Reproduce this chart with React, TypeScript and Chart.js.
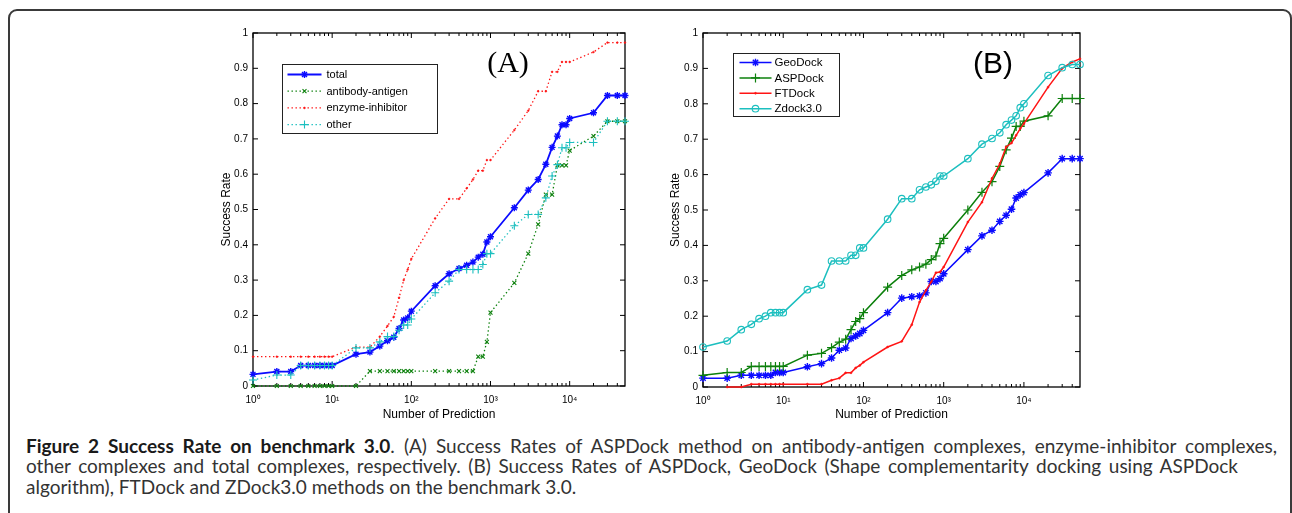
import React, { useEffect, useRef } from 'react';
import { Chart, registerables } from 'chart.js';
import { drawPoint } from 'chart.js/helpers';

Chart.register(...registerables);

// ---------- data ----------
const xValues = [1, 2, 3, 4, 5, 6, 7, 8, 9, 10, 20, 30, 40, 50, 60, 70, 80, 90, 100, 200, 300, 400, 500, 600, 700, 800, 900, 1000, 2000, 3000, 4000, 5000, 6000, 7000, 8000, 9000, 10000, 20000, 30000, 40000, 50000];

// Panel (A)
const totalA = [0.033, 0.041, 0.041, 0.058, 0.058, 0.058, 0.058, 0.058, 0.058, 0.058, 0.09, 0.096, 0.113, 0.128, 0.138, 0.163, 0.187, 0.193, 0.212, 0.284, 0.318, 0.333, 0.342, 0.351, 0.365, 0.373, 0.408, 0.423, 0.505, 0.555, 0.585, 0.628, 0.676, 0.708, 0.74, 0.74, 0.758, 0.774, 0.823, 0.823, 0.823];
const antibodyA = [0, 0, 0, 0, 0, 0, 0, 0, 0, 0, 0, 0.042, 0.042, 0.042, 0.042, 0.042, 0.042, 0.042, 0.042, 0.042, 0.042, 0.042, 0.042, 0.042, 0.083, 0.083, 0.125, 0.208, 0.292, 0.375, 0.458, 0.542, 0.542, 0.625, 0.625, 0.625, 0.667, 0.708, 0.75, 0.75, 0.75];
const enzymeA = [0.083, 0.083, 0.083, 0.083, 0.083, 0.083, 0.083, 0.083, 0.083, 0.083, 0.11, 0.11, 0.14, 0.17, 0.196, 0.25, 0.3, 0.33, 0.36, 0.475, 0.53, 0.53, 0.56, 0.585, 0.61, 0.61, 0.64, 0.64, 0.725, 0.78, 0.835, 0.835, 0.89, 0.89, 0.918, 0.918, 0.918, 0.946, 0.973, 0.973, 0.973];
const otherA = [0.017, 0.031, 0.031, 0.058, 0.058, 0.058, 0.058, 0.058, 0.058, 0.058, 0.108, 0.108, 0.125, 0.14, 0.14, 0.158, 0.173, 0.173, 0.19, 0.264, 0.297, 0.33, 0.33, 0.33, 0.33, 0.344, 0.375, 0.375, 0.454, 0.486, 0.486, 0.533, 0.595, 0.627, 0.675, 0.675, 0.69, 0.69, 0.75, 0.75, 0.75];

// Panel (B)
const geoDockB = [0.025, 0.025, 0.033, 0.033, 0.033, 0.033, 0.033, 0.041, 0.041, 0.041, 0.057, 0.066, 0.082, 0.104, 0.11, 0.137, 0.144, 0.151, 0.16, 0.21, 0.251, 0.255, 0.257, 0.266, 0.298, 0.298, 0.306, 0.32, 0.388, 0.427, 0.443, 0.468, 0.485, 0.502, 0.534, 0.543, 0.549, 0.605, 0.645, 0.645, 0.645];
const aspDockB = [0.033, 0.041, 0.041, 0.058, 0.058, 0.058, 0.058, 0.058, 0.058, 0.058, 0.09, 0.095, 0.111, 0.127, 0.135, 0.162, 0.185, 0.193, 0.21, 0.282, 0.315, 0.331, 0.339, 0.347, 0.36, 0.37, 0.405, 0.42, 0.5, 0.55, 0.58, 0.623, 0.67, 0.703, 0.736, 0.736, 0.751, 0.766, 0.815, 0.815, 0.815];
const ftDockB = [null, 0, 0, 0.008, 0.008, 0.008, 0.008, 0.008, 0.008, 0.008, 0.008, 0.008, 0.019, 0.025, 0.04, 0.04, 0.054, 0.061, 0.07, 0.113, 0.129, 0.176, 0.24, 0.273, 0.297, 0.323, 0.325, 0.339, 0.466, 0.522, 0.589, 0.63, 0.678, 0.689, 0.711, 0.73, 0.744, 0.847, 0.9, 0.918, 0.927];
const zDockB = [0.113, 0.13, 0.162, 0.177, 0.193, 0.2, 0.21, 0.21, 0.21, 0.21, 0.275, 0.288, 0.356, 0.356, 0.356, 0.372, 0.372, 0.393, 0.393, 0.474, 0.532, 0.532, 0.557, 0.565, 0.571, 0.581, 0.596, 0.596, 0.645, 0.686, 0.702, 0.718, 0.741, 0.754, 0.766, 0.789, 0.8, 0.88, 0.902, 0.911, 0.911];

const seriesLabelsA = ['total', 'antibody-antigen', 'enzyme-inhibitor', 'other'];
const seriesLabelsB = ['GeoDock', 'ASPDock', 'FTDock', 'Zdock3.0'];
const xMajorTicks = [1, 10, 100, 1000, 10000];
const xMinorMultipliers = [2, 3, 4, 5, 6, 7, 8, 9];
const superscripts = ['⁰', '¹', '²', '³', '⁴'];
const xTitle = 'Number of Prediction';
const yTitle = 'Success Rate';

// ---------- styling ----------
const BLUE = '#0b0bff';
const GREEN = '#0c800c';
const RED = '#ff1414';
const CYAN = '#1cbfbf';
const FONT = '"Liberation Sans", Arial, sans-serif';

const toPoints = (ys: (number | null)[]) => xValues.map((x, i) => ({ x, y: ys[i] }));

function ds(label: string, ys: (number | null)[], color: string, style: any, order: number) {
  return {
    label,
    data: toPoints(ys),
    borderColor: color,
    backgroundColor: color,
    pointBorderColor: color,
    pointBackgroundColor: style.fill ?? color,
    borderWidth: style.width ?? 1.3,
    borderDash: style.dash ?? [],
    pointStyle: style.point,
    pointRadius: style.radius,
    pointBorderWidth: style.pbw ?? 1.2,
    pointHoverRadius: style.radius,
    tension: 0,
    clip: false,
    order,
  };
}

const DOT = [1.4, 2.6];

const framePlugin = {
  id: 'matlabFrame',
  beforeDatasetsDraw(chart: any) {
    const { ctx, chartArea: a, scales } = chart;
    const xs = scales.x;
    const ys = scales.y;
    ctx.save();
    ctx.strokeStyle = '#000';
    ctx.lineWidth = 1.3;
    ctx.strokeRect(a.left, a.top, a.right - a.left, a.bottom - a.top);
    ctx.lineWidth = 1;
    ctx.beginPath();
    xMajorTicks.forEach((d) => {
      const px = xs.getPixelForValue(d);
      ctx.moveTo(px, a.bottom); ctx.lineTo(px, a.bottom - 5);
      ctx.moveTo(px, a.top); ctx.lineTo(px, a.top + 5);
      xMinorMultipliers.forEach((m) => {
        const v = d * m;
        if (v >= xs.max) return;
        const p = xs.getPixelForValue(v);
        ctx.moveTo(p, a.bottom); ctx.lineTo(p, a.bottom - 3);
        ctx.moveTo(p, a.top); ctx.lineTo(p, a.top + 3);
      });
    });
    ys.ticks.forEach((t: any) => {
      const py = ys.getPixelForValue(t.value);
      ctx.moveTo(a.left, py); ctx.lineTo(a.left + 5, py);
      ctx.moveTo(a.right, py); ctx.lineTo(a.right - 5, py);
    });
    ctx.stroke();
    ctx.restore();
  },
};

const legendPlugin = {
  id: 'boxLegend',
  afterDraw(chart: any, _args: any, o: any) {
    const { ctx, chartArea: a } = chart;
    const x0 = Math.round(a.left + o.x) + 0.5;
    const y0 = Math.round(a.top + o.y) + 0.5;
    ctx.save();
    ctx.fillStyle = '#fff';
    ctx.fillRect(x0, y0, o.w, o.h);
    ctx.strokeStyle = '#222';
    ctx.lineWidth = 1;
    ctx.strokeRect(x0, y0, o.w, o.h);
    chart.data.datasets.forEach((d: any, i: number) => {
      const cy = y0 + o.first + i * o.row;
      const lx0 = x0 + o.sampleX;
      const lx1 = lx0 + o.sampleLen;
      ctx.strokeStyle = d.borderColor;
      ctx.lineWidth = d.borderWidth;
      ctx.setLineDash(d.borderDash || []);
      ctx.beginPath();
      ctx.moveTo(lx0, cy);
      ctx.lineTo(lx1, cy);
      ctx.stroke();
      ctx.setLineDash([]);
      ctx.fillStyle = d.pointBackgroundColor;
      ctx.strokeStyle = d.pointBorderColor;
      ctx.lineWidth = d.pointBorderWidth;
      drawPoint(ctx, { pointStyle: d.pointStyle, radius: d.pointRadius, borderWidth: d.pointBorderWidth, rotation: 0 }, (lx0 + lx1) / 2, cy);
      ctx.fillStyle = '#000';
      ctx.font = o.font;
      ctx.textBaseline = 'middle';
      ctx.textAlign = 'left';
      ctx.fillText(d.label, x0 + o.textX, cy + 0.5);
    });
    ctx.restore();
  },
};

const panelLabelPlugin = {
  id: 'panelLabel',
  afterDraw(chart: any, _args: any, o: any) {
    const { ctx, chartArea: a } = chart;
    ctx.save();
    ctx.fillStyle = '#000';
    ctx.font = o.font;
    ctx.textAlign = 'center';
    ctx.textBaseline = 'middle';
    ctx.fillText(o.text, a.left + o.dx, a.top + o.dy);
    ctx.restore();
  },
};

function makeConfig(datasets: any[], cfg: any) {
  return {
    type: 'line',
    data: { datasets },
    options: {
      responsive: false,
      maintainAspectRatio: false,
      animation: false,
      events: [],
      layout: { padding: { top: 33, right: cfg.padRight, left: 0, bottom: 0 } },
      plugins: {
        legend: { display: false },
        tooltip: { enabled: false },
        boxLegend: cfg.legend,
        panelLabel: cfg.label,
      },
      scales: {
        x: {
          type: 'logarithmic',
          min: 1,
          max: 50000,
          grid: { display: false, drawTicks: false },
          border: { display: false },
          afterBuildTicks: (s: any) => {
            s.ticks = xMajorTicks.map((v) => ({ value: v, major: true }));
          },
          afterFit: (s: any) => {
            s.height = cfg.xAxisH;
          },
          ticks: {
            autoSkip: false,
            maxRotation: 0,
            padding: 8,
            color: '#000',
            font: { family: FONT, size: 10 },
            callback: (v: any) => '10' + superscripts[Math.round(Math.log10(Number(v)))],
          },
          title: {
            display: true,
            text: xTitle,
            color: '#000',
            font: { family: FONT, size: 12 },
            padding: { top: 0, bottom: 8 },
          },
        },
        y: {
          min: 0,
          max: 1,
          grid: { display: false, drawTicks: false },
          border: { display: false },
          afterFit: (s: any) => {
            s.width = 63;
          },
          ticks: {
            stepSize: 0.1,
            padding: 5,
            color: '#000',
            font: { family: FONT, size: 10 },
            callback: (v: any) => String(Number(Number(v).toFixed(1))),
          },
          title: {
            display: true,
            text: yTitle,
            color: '#000',
            font: { family: FONT, size: 12 },
            padding: { top: cfg.yTitlePad, bottom: 0 },
          },
        },
      },
    },
    plugins: [framePlugin, legendPlugin, panelLabelPlugin],
  };
}

function Panel({ left, width, datasets, cfg }: any) {
  const ref = useRef<HTMLCanvasElement | null>(null);
  useEffect(() => {
    if (!ref.current) return;
    const chart = new Chart(ref.current, makeConfig(datasets, cfg) as any);
    return () => chart.destroy();
  }, []);
  return (
    <canvas
      ref={ref}
      width={width}
      height={430}
      style={{ position: 'absolute', left, top: 0, width, height: 430 }}
    />
  );
}

const datasetsA = [
  ds(seriesLabelsA[0], totalA, BLUE, { point: 'star', radius: 3.5, width: 1.8, pbw: 1.4 }, 4),
  ds(seriesLabelsA[1], antibodyA, GREEN, { point: 'crossRot', radius: 2.8, dash: DOT, pbw: 1.1 }, 3),
  ds(seriesLabelsA[2], enzymeA, RED, { point: 'circle', radius: 0.9, dash: DOT, pbw: 0.5 }, 2),
  ds(seriesLabelsA[3], otherA, CYAN, { point: 'cross', radius: 4, dash: DOT, pbw: 1.1 }, 1),
];

const datasetsB = [
  ds(seriesLabelsB[0], geoDockB, BLUE, { point: 'star', radius: 3.8, width: 1.5, pbw: 1.4 }, 4),
  ds(seriesLabelsB[1], aspDockB, GREEN, { point: 'cross', radius: 4.5, width: 1.5, pbw: 1.2 }, 3),
  ds(seriesLabelsB[2], ftDockB, RED, { point: 'circle', radius: 1, width: 1.5, pbw: 0.5 }, 2),
  ds(seriesLabelsB[3], zDockB, CYAN, { point: 'circle', radius: 3.3, width: 1.5, pbw: 1.1, fill: 'rgba(255,255,255,0)' }, 1),
];

const cfgA = {
  padRight: 15,
  xAxisH: 44,
  yTitlePad: 29,
  legend: { x: 29, y: 31, w: 155, h: 69, first: 10, row: 16.7, sampleX: 5, sampleLen: 34, textX: 44, font: `11px ${FONT}` },
  label: { text: '(A)', font: '30px "Liberation Serif", "Times New Roman", serif', dx: 255, dy: 31 },
};

const cfgB = {
  padRight: 20,
  xAxisH: 43,
  yTitlePad: 28,
  legend: { x: 30, y: 20, w: 106, h: 63, first: 9, row: 15.4, sampleX: 6, sampleLen: 32, textX: 41, font: `11.5px ${FONT}` },
  label: { text: '(B)', font: `30px ${FONT}`, dx: 290, dy: 32 },
};

const captionBold = 'Figure 2 Success Rate on benchmark 3.0';
const captionLines = [
  '. (A) Success Rates of ASPDock method on antibody-antigen complexes, enzyme-inhibitor complexes,',
  'other complexes and total complexes, respectively. (B) Success Rates of ASPDock, GeoDock (Shape complementarity docking using ASPDock',
  'algorithm), FTDock and ZDock3.0 methods on the benchmark 3.0.',
];

export default function App() {
  const capStyle: React.CSSProperties = {
    whiteSpace: 'nowrap',
    height: 20.5,
    lineHeight: '20.5px',
  };
  const justified: React.CSSProperties = {
    ...capStyle,
    whiteSpace: 'normal',
    textAlign: 'justify',
    textAlignLast: 'justify' as any,
    overflow: 'hidden',
  };
  return (
    <div
      style={{
        position: 'fixed',
        left: 0,
        top: 0,
        width: 1292,
        height: 513,
        overflow: 'hidden',
        background: '#fff',
      }}
    >
      <div
        style={{
          position: 'absolute',
          left: 8,
          top: 9,
          width: 1284,
          height: 620,
          boxSizing: 'border-box',
          border: '2px solid #3a3a3a',
          borderRadius: 9,
        }}
      />
      <Panel left={190} width={450} datasets={datasetsA} cfg={cfgA} />
      <Panel left={640} width={460} datasets={datasetsB} cfg={cfgB} />
      <div
        style={{
          position: 'absolute',
          left: 26,
          top: 435.5,
          fontFamily: 'Lato, "Open Sans", sans-serif',
          fontSize: 19,
          color: '#333',
        }}
      >
        <div style={{ ...justified, width: 1251 }}>
          <span style={{ fontWeight: 700, color: '#1a1a1a' }}>{captionBold}</span>
          {captionLines[0]}
        </div>
        <div style={{ ...justified, width: 1212 }}>{captionLines[1]}</div>
        <div style={capStyle}>{captionLines[2]}</div>
      </div>
    </div>
  );
}
